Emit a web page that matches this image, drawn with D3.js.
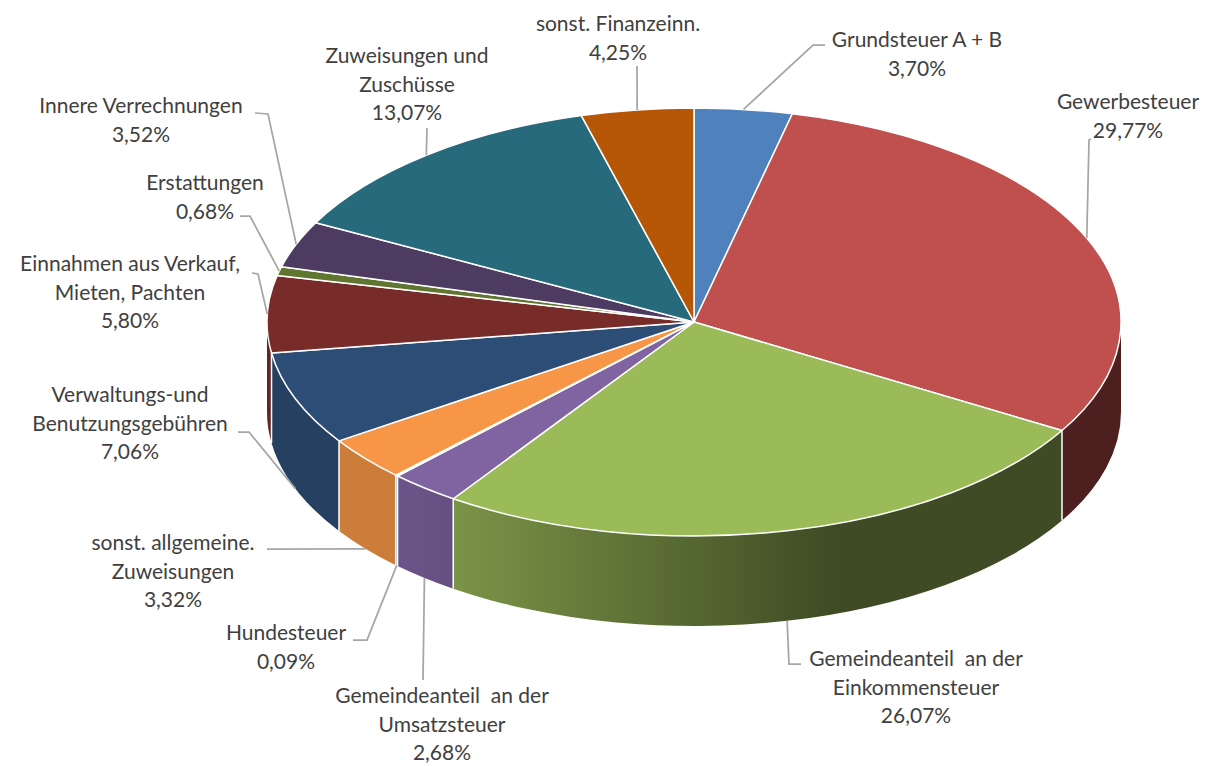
<!DOCTYPE html>
<html>
<head>
<meta charset="utf-8">
<script src="https://cdn.jsdelivr.net/npm/d3@7"></script>
<style>
  html, body { margin: 0; padding: 0; background: #ffffff; }
  svg { display: block; }
  text { font-family: Lato, "Open Sans", sans-serif; fill: #404040; }
</style>
</head>
<body>
<svg id="chart" width="1208" height="766"></svg>
<script>
// ---- data ----
const categories = [
  "Grundsteuer A + B",
  "Gewerbesteuer",
  "Gemeindeanteil an der Einkommensteuer",
  "Gemeindeanteil an der Umsatzsteuer",
  "Hundesteuer",
  "sonst. allgemeine. Zuweisungen",
  "Verwaltungs-und Benutzungsgebühren",
  "Einnahmen aus Verkauf, Mieten, Pachten",
  "Erstattungen",
  "Innere Verrechnungen",
  "Zuweisungen und Zuschüsse",
  "sonst. Finanzeinn."
];
const values = [3.70, 29.77, 26.07, 2.68, 0.09, 3.32, 7.06, 5.80, 0.68, 3.52, 13.07, 4.25];
const colors = ["#4f81bd", "#c0504d", "#9bbb59", "#8064a2", "#4bacc6", "#f79646",
                "#2c4d75", "#772c2a", "#5f7530", "#4d3b62", "#276a7c", "#b65708"];
const labelLines = [
  ["Grundsteuer A + B"],
  ["Gewerbesteuer"],
  ["Gemeindeanteil  an der", "Einkommensteuer"],
  ["Gemeindeanteil  an der", "Umsatzsteuer"],
  ["Hundesteuer"],
  ["sonst. allgemeine.", "Zuweisungen"],
  ["Verwaltungs-und", "Benutzungsgebühren"],
  ["Einnahmen aus Verkauf,", "Mieten, Pachten"],
  ["Erstattungen"],
  ["Innere Verrechnungen"],
  ["Zuweisungen und", "Zuschüsse"],
  ["sonst. Finanzeinn."]
];

// ---- layout ----
const cx = 694, cy = 322, rx = 427, ry = 214, depth = 90;
const fontSize = 21, lineH = 28.5;
// label layout: text center x, first baseline y, leader start points (before slice anchor)
const labelLayout = [
  { x: 917, y: 47,  lead: [[825, 45], [813, 45]] },
  { x: 1128, y: 109, lead: [[1091, 139], [1089, 140]] },
  { x: 916, y: 666, lead: [[801, 664], [789, 664]] },
  { x: 442, y: 703, lead: [[423, 680]] },
  { x: 286, y: 640, lead: [[353, 640], [367, 640]] },
  { x: 173, y: 550, lead: [[267, 549]] },
  { x: 130, y: 402, lead: [[238, 432], [249, 432]] },
  { x: 130, y: 271, lead: [[252, 273], [258, 274]] },
  { x: 205, y: 190, lead: [[240, 216], [250, 216]] },
  { x: 141, y: 113, lead: [[255, 113], [268, 114]] },
  { x: 407, y: 63,  lead: [[427, 128]] },
  { x: 618, y: 31,  lead: [[637, 66]] }
];

const de = d3.formatLocale({ decimal: ",", thousands: ".", grouping: [3], currency: ["", "€"] });
const fmt = de.format(".2f");

const svg = d3.select("#chart");
const defs = svg.append("defs");
const pie = d3.pie().sort(null).value(d => d).startAngle(0).endAngle(2 * Math.PI);
const arcs = pie(values);

const px = a => cx + rx * Math.sin(a);
const py = a => cy - ry * Math.cos(a);

function shadeFactor(x) {
  const f = 0.79 - (x - 453) * 0.00101;
  return Math.max(0.40, Math.min(0.83, f));
}
function shade(col, f) {
  const c = d3.rgb(col);
  return d3.rgb(c.r * f, c.g * f, c.b * f).formatHex();
}

// horizontal shading gradients, one per slice colour
const gx0 = cx - rx, gx1 = cx + rx;
const stopXs = d3.range(gx0, gx1 + 1, 15);
colors.forEach((col, i) => {
  const g = defs.append("linearGradient")
    .attr("id", "side" + i)
    .attr("gradientUnits", "userSpaceOnUse")
    .attr("x1", gx0).attr("y1", 0).attr("x2", gx1).attr("y2", 0);
  g.selectAll("stop").data(stopXs).join("stop")
    .attr("offset", x => (x - gx0) / (gx1 - gx0))
    .attr("stop-color", x => shade(col, shadeFactor(x)));
});

// ---- side walls (front half only) ----
const sideG = svg.append("g");
const sides = arcs.map((d, i) => ({
  i: i,
  s: Math.max(d.startAngle, Math.PI / 2),
  e: Math.min(d.endAngle, 3 * Math.PI / 2)
})).filter(d => d.e > d.s);
sideG.selectAll("path").data(sides).join("path")
  .attr("d", d => `M${px(d.s)},${py(d.s)}A${rx},${ry} 0 0 1 ${px(d.e)},${py(d.e)}` +
                  `L${px(d.e)},${py(d.e) + depth}A${rx},${ry} 0 0 0 ${px(d.s)},${py(d.s) + depth}Z`)
  .attr("fill", d => `url(#side${d.i})`);

// white separators on the side
const sepAngles = arcs.map(d => d.startAngle).filter(a => a > Math.PI / 2 && a < 3 * Math.PI / 2);
sideG.selectAll("line").data(sepAngles).join("line")
  .attr("x1", a => px(a)).attr("y1", a => py(a))
  .attr("x2", a => px(a)).attr("y2", a => py(a) + depth)
  .attr("stroke", "#ffffff").attr("stroke-width", 1.5);

// ---- top faces ----
svg.append("g").selectAll("path").data(arcs).join("path")
  .attr("d", d => {
    const s = d.startAngle, e = d.endAngle;
    const large = (e - s) > Math.PI ? 1 : 0;
    return `M${cx},${cy}L${px(s)},${py(s)}A${rx},${ry} 0 ${large} 1 ${px(e)},${py(e)}Z`;
  })
  .attr("fill", (d, i) => colors[i])
  .attr("stroke", "#ffffff")
  .attr("stroke-width", 1.5)
  .attr("stroke-linejoin", "round");

// ---- leader lines ----
function anchor(d) {
  const m = (d.startAngle + d.endAngle) / 2;
  const front = m > Math.PI / 2 && m < 3 * Math.PI / 2;
  return [px(m), py(m) + (front ? depth : 0)];
}
svg.append("g").selectAll("path").data(arcs).join("path")
  .attr("d", (d, i) => d3.line()(labelLayout[i].lead.concat([anchor(d)])))
  .attr("fill", "none")
  .attr("stroke", "#a6a6a6")
  .attr("stroke-width", 1.75);

// ---- labels ----
const lab = svg.append("g").selectAll("text").data(arcs).join("text")
  .attr("text-anchor", "middle")
  .attr("font-size", fontSize);
lab.each(function (d, i) {
  const t = d3.select(this);
  const lines = labelLines[i].concat([fmt(values[i]) + "%"]);
  lines.forEach((ln, k) => {
    t.append("tspan")
      .attr("x", labelLayout[i].x)
      .attr("y", labelLayout[i].y + k * lineH)
      .attr("xml:space", "preserve")
      .text(ln);
  });
});
</script>
</body>
</html>
